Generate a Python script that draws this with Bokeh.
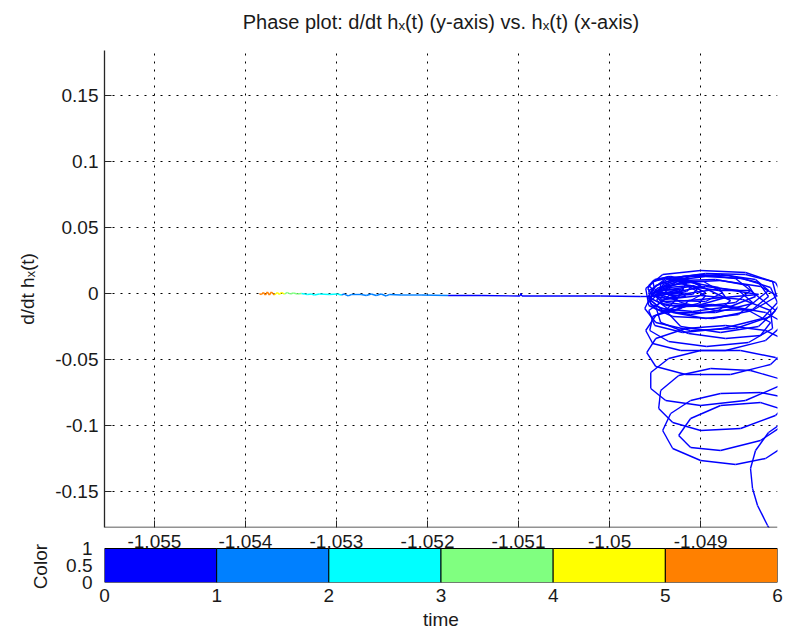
from bokeh.plotting import figure
from bokeh.models import Range1d, LinearAxis, FixedTicker, ColumnDataSource, PrintfTickFormatter, Title
from bokeh.transform import linear_cmap
from bokeh.layouts import column
from bokeh.embed import file_html
from bokeh.resources import INLINE

# ---------------- data ----------------
title_text = "Phase plot: d/dt h\u2093(t) (y-axis) vs. h\u2093(t) (x-axis)"
y_label = "d/dt h\u2093(t)"
hx_ticks = [-1.055, -1.054, -1.053, -1.052, -1.051, -1.05, -1.049]
dhx_ticks = [-0.15, -0.1, -0.05, 0, 0.05, 0.1, 0.15]
time_ticks = [0, 1, 2, 3, 4, 5, 6]
color_ticks = [0, 0.5, 1]
band_start = [0, 1, 2, 3, 4, 5]
band_end = [1, 2, 3, 4, 5, 6]
band_colors = ["#0000FF", "#0080FF", "#00FFFF", "#80FF80", "#FFFF00", "#FF8000"]

# early, chaotic part of the orbit (all within the first time unit)
orbit_time = 0.5
orbit_hx = [-1.048123, -1.048265, -1.048375, -1.048430, -1.048452, -1.048397, -1.048254, -1.048068, -1.047903, -1.048013,
            -1.048342, -1.048781, -1.049110, -1.049329, -1.049417, -1.049307, -1.049000, -1.048616, -1.048287, -1.048068,
            -1.047958, -1.048068, -1.048342, -1.048781, -1.049110, -1.049241, -1.049110, -1.048781, -1.048342, -1.048013,
            -1.047903, -1.048068, -1.048452, -1.048890, -1.049241, -1.049439, -1.049461, -1.049307, -1.049000, -1.048561,
            -1.048178, -1.047958, -1.047958, -1.048178, -1.048561, -1.049000, -1.049351, -1.049548, -1.049548, -1.049384,
            -1.049000, -1.048507, -1.048123, -1.047958, -1.048013, -1.048287, -1.048726, -1.049164, -1.049493, -1.049592,
            -1.049493, -1.049164, -1.048671, -1.048232, -1.048013, -1.048035, -1.048287, -1.048726, -1.049164, -1.049493,
            -1.049603, -1.049526, -1.049219, -1.048726, -1.048287, -1.048068, -1.048068, -1.048342, -1.048781, -1.049219,
            -1.049526, -1.049614, -1.049493, -1.049110, -1.048616, -1.048232, -1.048079, -1.048178, -1.048507, -1.049000,
            -1.049417, -1.049603, -1.049570, -1.049307, -1.048868, -1.048430, -1.048167, -1.048210, -1.048507, -1.048945,
            -1.049351, -1.049570, -1.049548, -1.049274, -1.048836, -1.048430, -1.048254, -1.048397, -1.048781, -1.049197,
            -1.049493, -1.049581, -1.049439, -1.049088, -1.048671, -1.048397, -1.048474, -1.048836, -1.049219, -1.049482,
            -1.049548, -1.049384, -1.049033, -1.048726, -1.048803, -1.049110, -1.049417, -1.049526, -1.049417, -1.049110,
            -1.048945, -1.049110, -1.049351, -1.049482, -1.049384, -1.049164, -1.049241, -1.049439, -1.049548]
orbit_dhx = [-0.19091, -0.17576, -0.16061, -0.14773, -0.13258, -0.11894, -0.10530, -0.09621, -0.08864, -0.07955,
             -0.07500, -0.07576, -0.08106, -0.09091, -0.10379, -0.11742, -0.12652, -0.12955, -0.12500, -0.11515,
             -0.10227, -0.08864, -0.08258, -0.08485, -0.09470, -0.10758, -0.11667, -0.11894, -0.11136, -0.09621,
             -0.07955, -0.06591, -0.05833, -0.05682, -0.06212, -0.07348, -0.08712, -0.09773, -0.10379, -0.10227,
             -0.09242, -0.07727, -0.05985, -0.04848, -0.04318, -0.04318, -0.04924, -0.05985, -0.07197, -0.08106,
             -0.08485, -0.08106, -0.06970, -0.05227, -0.03712, -0.02803, -0.02424, -0.02652, -0.03409, -0.04470,
             -0.05530, -0.06136, -0.06136, -0.05379, -0.03939, -0.02424, -0.01439, -0.00909, -0.00985, -0.01667,
             -0.02803, -0.03788, -0.04318, -0.04318, -0.03561, -0.02197, -0.00530, 0.00530, 0.00985, 0.00833,
             0.00076, -0.01136, -0.02197, -0.02803, -0.02652, -0.01742, -0.00379, 0.00833, 0.01591, 0.01742,
             0.01439, 0.00379, -0.00909, -0.01742, -0.01894, -0.01288, -0.00227, 0.00909, 0.01439, 0.01515,
             0.01136, 0.00227, -0.00833, -0.01439, -0.01439, -0.00758, 0.00227, 0.01061, 0.01439, 0.01288,
             0.00606, -0.00303, -0.01136, -0.01364, -0.00985, -0.00227, 0.00606, 0.01061, 0.00985, 0.00379,
             -0.00379, -0.00909, -0.00909, -0.00303, 0.00455, 0.00833, 0.00530, -0.00076, -0.00606, -0.00530,
             0.00076, 0.00606, 0.00455, 0.0, -0.00379, -0.00227, 0.00303, 0.00227, -0.00076]

# dense settling loops near the top of the chaotic block (still first time unit)
settle_hx = [-1.049307, -1.048945, -1.048539, -1.048232, -1.048156, -1.048320, -1.048759, -1.049197, -1.049504, -1.049570,
             -1.049395, -1.049000, -1.048539, -1.048232, -1.048210, -1.048474, -1.048934, -1.049351, -1.049559, -1.049526,
             -1.049263, -1.048868, -1.048474, -1.048232, -1.048342, -1.048726, -1.049132, -1.049439, -1.049493, -1.049307,
             -1.048945, -1.048583, -1.048430, -1.048583, -1.048945, -1.049307, -1.049482, -1.049417, -1.049110, -1.048693,
             -1.048364, -1.048254, -1.048430, -1.048836, -1.049219, -1.049395, -1.049263, -1.048967, -1.048759, -1.048945,
             -1.049263, -1.049450, -1.049439, -1.049219, -1.049000, -1.049088, -1.049329, -1.049504, -1.049526, -1.049351,
             -1.049154, -1.049219, -1.049417, -1.049548,
             -1.049186, -1.049241, -1.049384, -1.049526, -1.049581, -1.049526, -1.049384, -1.049241,
             -1.048945, -1.049022, -1.049219, -1.049417, -1.049493, -1.049417, -1.049219, -1.049022,
             -1.049088, -1.049154, -1.049329, -1.049504, -1.049570, -1.049504, -1.049329, -1.049154,
             -1.048671, -1.048803, -1.049110, -1.049417, -1.049548, -1.049417, -1.049110, -1.048803,
             -1.048452, -1.048616, -1.049000, -1.049384, -1.049548, -1.049384, -1.049000, -1.048616,
             -1.048178, -1.048364, -1.048781, -1.049219, -1.049384, -1.049219, -1.048781, -1.048364,
             -1.049132, -1.049219, -1.049351, -1.049504, -1.049570, -1.049504, -1.049351, -1.049219,
             -1.049548]
settle_dhx = [0.00985, 0.01288, 0.01136, 0.00455, -0.00682, -0.01894, -0.02652, -0.02955, -0.02424, -0.01288,
              -0.00455, -0.00152, -0.00455, -0.01288, -0.02652, -0.03712, -0.04015, -0.03636, -0.02803, -0.01742,
              -0.00985, -0.00833, -0.01288, -0.02197, -0.03182, -0.03409, -0.03030, -0.02197, -0.00985, 0.00076,
              0.00530, 0.00227, -0.00682, -0.01591, -0.01894, -0.01439, -0.00530, 0.00682, 0.01288, 0.01364,
              0.00833, -0.00227, -0.01212, -0.01288, -0.00682, 0.00227, 0.00909, 0.00909, 0.00076, -0.00606,
              -0.00530, -0.00076, 0.00758, 0.01212, 0.00682, -0.00076, -0.00152, 0.00303, 0.00909, 0.01288,
              0.00833, 0.00076, 0.00076, -0.00227,
              0.00379, -0.00152, -0.00379, -0.00152, 0.00379, 0.00909, 0.01136, 0.00909,
              -0.00152, -0.00758, -0.01061, -0.00758, -0.00152, 0.00455, 0.00758, 0.00455,
              0.00606, 0.00152, -0.00076, 0.00152, 0.00606, 0.01061, 0.01288, 0.01061,
              -0.00530, -0.01288, -0.01591, -0.01288, -0.00530, 0.00227, 0.00530, 0.00227,
              0.00227, -0.00682, -0.00985, -0.00682, 0.00227, 0.01136, 0.01439, 0.01136,
              -0.01288, -0.02500, -0.02955, -0.02500, -0.01288, -0.00076, 0.00379, -0.00076,
              -0.00530, -0.01136, -0.01439, -0.01136, -0.00530, 0.00076, 0.00379, 0.00076,
              -0.00227]

# later part: slow drift along dh/dt ~ 0 towards the left
tail_time = [0.80, 0.84, 0.88, 0.91, 0.915, 0.92, 0.95, 1.00, 1.15, 1.30,
             1.40, 1.45, 1.50, 1.55, 1.60, 1.65, 1.70, 1.80, 1.85, 1.90,
             2.00, 2.10, 2.30, 2.50, 2.60, 2.70, 2.85, 2.95, 3.10, 3.30,
             3.50, 3.70, 3.90, 4.10, 4.40, 4.70, 4.95, 5.10, 5.25, 5.40,
             5.55, 5.70, 5.80, 5.90, 6.00]
tail_hx = [-1.049658, -1.050097, -1.050535, -1.050963, -1.050974, -1.050985, -1.051412, -1.051774, -1.052070, -1.052290,
           -1.052421, -1.052454, -1.052509, -1.052564, -1.052618, -1.052673, -1.052728, -1.052838, -1.052871, -1.052915,
           -1.052947, -1.052991, -1.053079, -1.053189, -1.053243, -1.053276, -1.053320, -1.053353, -1.053386, -1.053430,
           -1.053474, -1.053507, -1.053539, -1.053572, -1.053605, -1.053627, -1.053649, -1.053682, -1.053715, -1.053737,
           -1.053759, -1.053781, -1.053803, -1.053825, -1.053847]
tail_dhx = [-0.00227, -0.00189, -0.00189, -0.00189, 0.0, -0.00189, -0.00152, -0.00152, -0.00114, -0.00114,
            -0.00076, -0.00189, -0.00038, -0.00152, -0.00038, -0.00152, -0.00076, -0.00076, -0.00189, -0.00038,
            -0.00114, -0.00038, -0.00076, -0.00038, -0.00114, -0.00038, -0.00076, -0.00038, 0.0, -0.00038,
            0.00038, -0.00038, 0.00076, -0.00038, 0.00076, -0.00076, 0.00076, -0.00114, 0.00114, -0.00114,
            0.00114, -0.00114, 0.00076, -0.00076, 0.0]

# ---------------- build ----------------
FONT = "Liberation Sans"
TXT = "#1a1a1a"
TICK_FS = "19px"

early_hx = orbit_hx + settle_hx
early_dhx = orbit_dhx + settle_dhx
all_hx = early_hx + tail_hx
all_dhx = early_dhx + tail_dhx
all_t = [orbit_time] * len(early_hx) + tail_time
seg = ColumnDataSource(dict(x0=all_hx[:-1], y0=all_dhx[:-1], x1=all_hx[1:], y1=all_dhx[1:], t=all_t[:-1]))
cmap = linear_cmap("t", band_colors, 0, 6)

X_LO, X_HI = -1.0555482, -1.0481557
Y_LO, Y_HI = -0.17727, 0.18409

p = figure(width=785, height=528, x_range=Range1d(X_LO, X_HI), y_range=Range1d(Y_LO, Y_HI),
           output_backend="svg", toolbar_location=None, x_axis_location=None,
           min_border_left=104, min_border_right=8, min_border_top=50, min_border_bottom=1)
p.outline_line_color = None
p.background_fill_color = "white"
p.border_fill_color = "white"
p.segment(x0="x0", y0="y0", x1="x1", y1="y1", source=seg, line_color=cmap, line_width=1.4)

# white spacer right on top of the axes box, with the title above it
p.title.text = ""
spacer = Title(text="\u00a0", text_font=FONT, text_font_size="10px", text_color="white", standoff=5)
p.add_layout(spacer, "above")
main_title = Title(text=title_text, align="center", text_font=FONT, text_font_size="20px",
                   text_font_style="normal", text_color=TXT, standoff=0)
p.add_layout(main_title, "above")

fmt = "%g"
# bottom axis of the phase plot: line and inward ticks (its numbers are drawn above the colour bar)
xax = LinearAxis(ticker=FixedTicker(ticks=hx_ticks), fixed_location=Y_LO,
                 axis_line_color="#262626", axis_line_width=1.3,
                 major_tick_line_color="#262626", major_tick_in=7, major_tick_out=0,
                 minor_tick_line_color=None, major_label_text_color=None)
p.add_layout(xax, "below")

p.yaxis.ticker = FixedTicker(ticks=dhx_ticks)
p.yaxis.formatter = PrintfTickFormatter(format=fmt)
p.yaxis.axis_line_color = "#262626"
p.yaxis.axis_line_width = 1.3
p.yaxis.major_tick_line_color = "#262626"
p.yaxis.major_tick_in = 7
p.yaxis.major_tick_out = 0
p.yaxis.minor_tick_line_color = None
p.yaxis.major_label_text_font = FONT
p.yaxis.major_label_text_font_size = TICK_FS
p.yaxis.major_label_text_color = TXT
p.yaxis.major_label_standoff = 6
p.yaxis.axis_label = y_label
p.yaxis.axis_label_text_font = FONT
p.yaxis.axis_label_text_font_size = "19px"
p.yaxis.axis_label_text_font_style = "normal"
p.yaxis.axis_label_text_color = TXT
p.yaxis.axis_label_standoff = 14

p.xgrid.ticker = FixedTicker(ticks=hx_ticks)
p.grid.grid_line_color = "#000000"
p.grid.grid_line_dash = "2 6"
p.grid.grid_line_width = 1

# ---------------- color bar (time) ----------------
CB_TOP = 54 / 34
cb = figure(width=785, height=109, x_range=Range1d(0, 6), y_range=Range1d(0, CB_TOP),
            output_backend="svg", toolbar_location=None,
            min_border_left=104, min_border_right=8, min_border_top=0, min_border_bottom=55)
cb.outline_line_color = None
cb.grid.visible = False
bands = ColumnDataSource(dict(left=band_start, right=band_end, mid=[(a + b) / 2 for a, b in zip(band_start, band_end)]))
cb.quad(left="left", right="right", bottom=0, top=1, source=bands,
        fill_color=linear_cmap("mid", band_colors, 0, 6), line_color="#000000", line_width=1)

cb.xaxis.ticker = FixedTicker(ticks=time_ticks)
cb.xaxis.formatter = PrintfTickFormatter(format=fmt)
cb.yaxis.ticker = FixedTicker(ticks=color_ticks)
cb.yaxis.formatter = PrintfTickFormatter(format=fmt)
for ax in (cb.xaxis, cb.yaxis):
    ax.axis_line_color = None
    ax.major_tick_line_color = None
    ax.minor_tick_line_color = None
    ax.major_label_text_font = FONT
    ax.major_label_text_font_size = TICK_FS
    ax.major_label_text_color = TXT
    ax.axis_label_text_font = FONT
    ax.axis_label_text_font_size = "19px"
    ax.axis_label_text_font_style = "normal"
    ax.axis_label_text_color = TXT
cb.xaxis.major_label_standoff = 0
cb.xaxis.axis_label = "time"
cb.xaxis.axis_label_standoff = 4
cb.yaxis.major_label_standoff = 6
cb.yaxis.axis_label = "\u00a0" * 6 + "Color"
cb.yaxis.axis_label_standoff = 12
cb.yaxis.axis_label_align = "start"

# tick numbers of the phase plot's x axis (drawn just above the colour bar)
cb.extra_x_ranges = {"hx": Range1d(X_LO, X_HI)}
hx_axis = LinearAxis(x_range_name="hx", ticker=FixedTicker(ticks=hx_ticks),
                     formatter=PrintfTickFormatter(format=fmt), fixed_location=1,
                     axis_line_color=None, major_tick_line_color=None, minor_tick_line_color=None,
                     major_label_text_font=FONT, major_label_text_font_size=TICK_FS,
                     major_label_text_color=TXT, major_label_standoff=-5)
cb.add_layout(hx_axis, "above")

layout = column(p, cb, spacing=0)
open("out.html", "w").write(file_html(layout, INLINE))
